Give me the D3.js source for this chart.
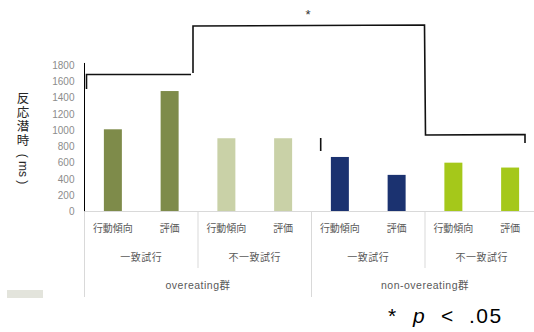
<!DOCTYPE html>
<html>
<head>
<meta charset="utf-8">
<script src="https://cdn.jsdelivr.net/npm/d3@7"></script>
<style>
  html, body { margin: 0; padding: 0; background: #fff; }
  svg { display: block; }
  text { font-family: "Liberation Sans", Arial, "Noto Sans CJK JP", sans-serif; }
</style>
</head>
<body>
<svg id="chart" width="534" height="332"></svg>
<script>
// Reaction latency (ms) by group, trial type and task
const groups = ["overeating群", "non-overeating群"];
const trialTypes = ["一致試行", "不一致試行"];
const tasks = ["行動傾向", "評価"];
const values = [1010, 1480, 900, 900, 670, 450, 600, 540];
const barColors = ["#7e8b4a", "#7e8b4a", "#c9d1a7", "#c9d1a7", "#1b3270", "#1b3270", "#a5c81a", "#a5c81a"];
const yTicks = [0, 200, 400, 600, 800, 1000, 1200, 1400, 1600, 1800];

// Flattened leaf categories: group / trial type / task
const leaves = [];
groups.forEach((g, gi) => trialTypes.forEach((t, ti) => tasks.forEach((k, ki) => {
  leaves.push({ id: `${gi}-${ti}-${ki}`, group: g, trial: t, task: k, gi, ti });
})));
leaves.forEach((d, i) => { d.value = values[i]; d.color = barColors[i]; });

const svg = d3.select("#chart");
const x0 = 84.5, x1 = 538.5;
const yBase = 211.5, yTop = 65;

const x = d3.scaleBand().domain(leaves.map(d => d.id)).range([x0, x1])
  .paddingInner(0.683).paddingOuter(0.3415);
const y = d3.scaleLinear().domain([0, 1800]).range([yBase, yTop]);
const step = x.step();

// Bars
svg.append("g").selectAll("rect").data(leaves).join("rect")
  .attr("x", d => x(d.id)).attr("width", x.bandwidth())
  .attr("y", d => y(d.value)).attr("height", d => y(0) - y(d.value))
  .attr("fill", d => d.color);

// Y axis
const yAxis = d3.axisLeft(y).tickValues(yTicks).tickFormat(d3.format("d")).tickSize(0).tickPadding(10);
const ya = svg.append("g").attr("transform", `translate(${x0},0)`).call(yAxis);
ya.select(".domain").remove();
ya.selectAll("text").attr("fill", "#8c8c8c").style("font-size", "10px");
svg.append("line").attr("x1", x0).attr("x2", x0).attr("y1", y(1825)).attr("y2", yBase)
  .attr("stroke", "#000").attr("stroke-width", 1);

// Category axis (light grey)
const gridCol = "#d9d9d9";
svg.append("line").attr("x1", x0).attr("x2", x1).attr("y1", yBase).attr("y2", yBase)
  .attr("stroke", gridCol).attr("stroke-width", 1);
const nTrial = groups.length * trialTypes.length;
for (let i = 0; i <= nTrial; i++) {
  const xx = x0 + i * step * tasks.length;
  const full = i % trialTypes.length === 0;
  svg.append("line").attr("x1", xx).attr("x2", xx)
    .attr("y1", yBase).attr("y2", full ? 297 : 268)
    .attr("stroke", gridCol).attr("stroke-width", 1);
}

const labCol = "#595959";
// Task labels
svg.append("g").selectAll("text").data(leaves).join("text")
  .attr("x", d => x(d.id) + x.bandwidth() / 2).attr("y", 232)
  .attr("text-anchor", "middle").attr("fill", labCol).style("font-size", "10px")
  .text(d => d.task);
// Trial type labels
const trialCells = [];
groups.forEach((g, gi) => trialTypes.forEach((t, ti) => trialCells.push({ label: t, idx: gi * trialTypes.length + ti })));
svg.append("g").selectAll("text").data(trialCells).join("text")
  .attr("x", d => x0 + (d.idx + 0.5) * step * tasks.length).attr("y", 261)
  .attr("text-anchor", "middle").attr("fill", labCol).style("font-size", "10px")
  .style("letter-spacing", "0.5px")
  .text(d => d.label);
// Group labels
svg.append("g").selectAll("text").data(groups).join("text")
  .attr("x", (d, i) => x0 + (i + 0.5) * step * tasks.length * trialTypes.length).attr("y", 289)
  .attr("text-anchor", "middle").attr("fill", labCol).style("font-size", "10.5px")
  .style("letter-spacing", "0.5px")
  .text(d => d);

// Y axis title, vertical
const title = svg.append("g").attr("fill", "#262626");
["反", "応", "潜", "時"].forEach((c, i) => {
  title.append("text").attr("x", 23).attr("y", 103 + i * 14)
    .attr("text-anchor", "middle").style("font-size", "12.5px").text(c);
});
title.append("text").attr("transform", "translate(19,169) rotate(90)")
  .attr("text-anchor", "middle").style("font-size", "12px").text("(  ms  )");

// Significance bracket
const br = svg.append("g").attr("fill", "none").attr("stroke", "#111").attr("stroke-width", 1.6);
const path = (pts) => br.append("path").attr("d", d3.line()(pts));
path([[86.5, 89], [86.5, 74.5], [191, 74.5]]);
path([[193, 73], [193, 26], [424.5, 25], [425.5, 135], [525, 134.5], [525, 143]]);
path([[320.7, 138], [320.7, 151]]);
svg.append("text").attr("x", 308).attr("y", 19).attr("text-anchor", "middle")
  .attr("fill", "#333").style("font-size", "13px").text("*");

// Grey swatch
svg.append("rect").attr("x", 7).attr("y", 290).attr("width", 36).attr("height", 8).attr("fill", "#e3e4dc");

// Significance note
const note = svg.append("g").attr("fill", "#000").style("font-size", "21px");
note.append("text").attr("x", 388).attr("y", 323).text("*");
note.append("text").attr("x", 413).attr("y", 323).style("font-style", "italic").text("p");
note.append("text").attr("x", 441).attr("y", 323).text("<");
note.append("text").attr("x", 469).attr("y", 323).style("letter-spacing", "1.5px").text(".05");
</script>
</body>
</html>
